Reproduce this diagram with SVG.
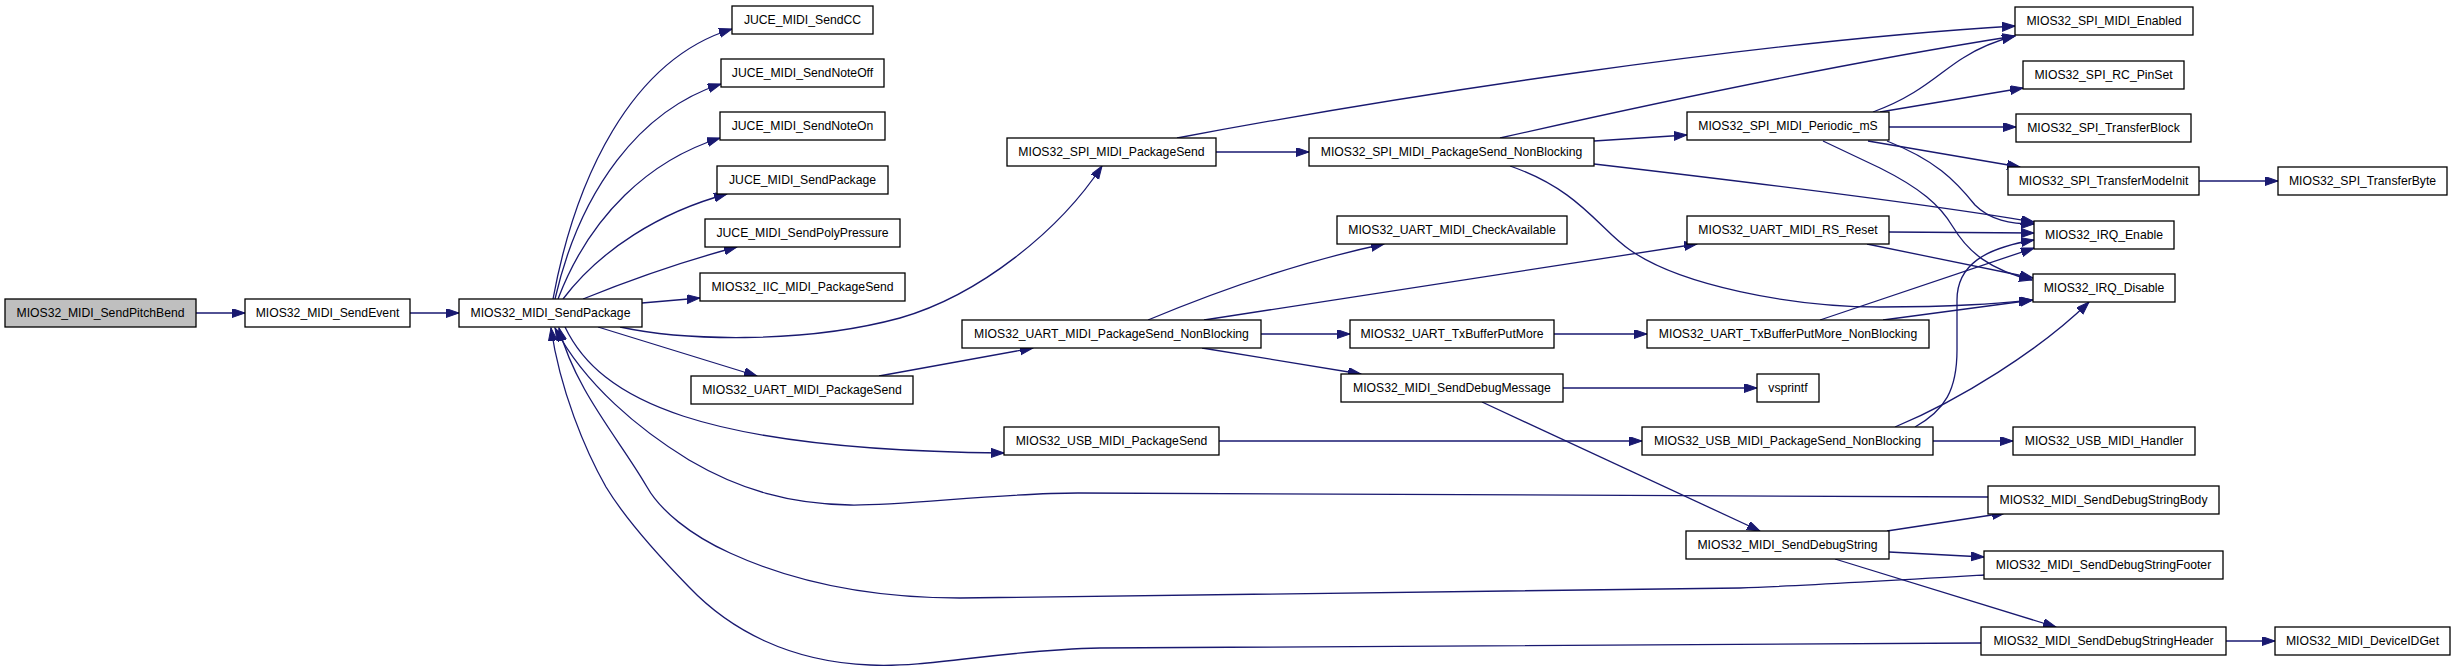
<svg xmlns="http://www.w3.org/2000/svg" width="2456" height="671" viewBox="0 0 2456 671">
<style>
.node rect{fill:#ffffff;stroke:#000000;stroke-width:1.3}
.root rect{fill:#bfbfbf}
text{font-family:"Liberation Sans",Arial,Helvetica,sans-serif;font-size:12.2px;text-anchor:middle;fill:#000000}
.edge path{fill:none;stroke:#191970;stroke-width:1.3;marker-end:url(#arr)}
</style>
<defs>
<marker id="arr" markerUnits="userSpaceOnUse" markerWidth="14" markerHeight="10" refX="13" refY="4.5" orient="auto">
<path d="M0,0 L13,4.5 L0,9 z" fill="#191970" stroke="#191970" stroke-width="1"/>
</marker>
</defs>
<rect x="0" y="0" width="2456" height="671" fill="#ffffff"/>
<g id="edges" class="edge">
<path d="M196,313 L245,313"/>
<path d="M410,313 L459,313"/>
<path d="M553,299 C575,180 630,60 732,29"/>
<path d="M555,299 C580,190 640,110 721,84"/>
<path d="M558,299 C590,215 650,160 720,138"/>
<path d="M563,299 C600,250 660,212 727,194"/>
<path d="M583,299 C630,280 680,262 737,247"/>
<path d="M642,303 L700,298"/>
<path d="M620,327 C680,340 800,345 900,318 C980,295 1060,230 1102,166"/>
<path d="M598,327 L757,376"/>
<path d="M565,327 C600,400 700,450 1004,453"/>
<path d="M1177,138 C1400,96 1750,42 2015,26"/>
<path d="M1216,152 L1309,152"/>
<path d="M1594,141 L1687,135"/>
<path d="M1500,138 C1650,104 1850,62 2015,36"/>
<path d="M1594,164 C1800,188 1950,208 2034,222"/>
<path d="M1510,166 C1580,190 1600,230 1630,250 C1680,285 1790,307 1880,307 C1960,307 2000,303 2032,300"/>
<path d="M1873,112 C1920,95 1940,72 1963,58 C1980,47 1995,41 2015,36"/>
<path d="M1880,112 L2023,88"/>
<path d="M1889,127 L2016,127"/>
<path d="M1868,141 L2020,167"/>
<path d="M1887,141 C1935,160 1955,180 1975,205 C1990,220 2010,224 2034,224"/>
<path d="M1823,141 L1880,168 C1920,188 1940,205 1953,227 C1968,252 1990,270 2032,280"/>
<path d="M1889,232 L2034,233"/>
<path d="M1867,244 L2033,278"/>
<path d="M1148,320 C1220,290 1300,262 1384,244"/>
<path d="M1204,320 L1697,244"/>
<path d="M1261,334 L1350,334"/>
<path d="M1202,348 L1361,374"/>
<path d="M879,376 L1033,348"/>
<path d="M1554,334 L1647,334"/>
<path d="M1820,320 L2034,248"/>
<path d="M1883,320 L2033,300"/>
<path d="M1563,388 L1757,388"/>
<path d="M1482,402 L1760,531"/>
<path d="M1219,441 L1642,441"/>
<path d="M1915,427 C1945,410 1957,390 1957,350 L1957,300 C1957,265 1985,248 2034,240"/>
<path d="M1895,427 C1960,400 2040,350 2089,302"/>
<path d="M1933,441 L2013,441"/>
<path d="M1887,531 L2005,513"/>
<path d="M1889,552 L1984,557"/>
<path d="M1835,559 L2056,627"/>
<path d="M2226,641 L2275,641"/>
<path d="M2199,181 L2278,181"/>
<path d="M1988,497 L1078,493 C1000,493 900,506 850,505 C790,504 740,490 689,460 C640,430 585,385 555,328"/>
<path d="M1984,575 C1900,580 1800,586 1740,588 L960,598 C880,598 800,585 730,553 C690,535 660,510 647,487 C620,440 575,390 559,328"/>
<path d="M1981,643 L1100,648 C1000,650 930,668 870,665 C790,662 730,630 689,587 C650,547 620,510 606,487 C585,450 560,390 551,328"/>
</g>
<g id="node-SendPitchBend" class="node root"><rect x="5" y="299" width="191" height="28"/><text x="100.5" y="316.5">MIOS32_MIDI_SendPitchBend</text></g>
<g id="node-SendEvent" class="node"><rect x="245" y="299" width="165" height="28"/><text x="327.5" y="316.5">MIOS32_MIDI_SendEvent</text></g>
<g id="node-SendPackage" class="node"><rect x="459" y="299" width="183" height="28"/><text x="550.5" y="316.5">MIOS32_MIDI_SendPackage</text></g>
<g id="node-JUCE_SendCC" class="node"><rect x="732" y="6" width="141" height="28"/><text x="802.5" y="23.5">JUCE_MIDI_SendCC</text></g>
<g id="node-JUCE_SendNoteOff" class="node"><rect x="721" y="59" width="163" height="28"/><text x="802.5" y="76.5">JUCE_MIDI_SendNoteOff</text></g>
<g id="node-JUCE_SendNoteOn" class="node"><rect x="720" y="112" width="165" height="28"/><text x="802.5" y="129.5">JUCE_MIDI_SendNoteOn</text></g>
<g id="node-JUCE_SendPackage" class="node"><rect x="717" y="166" width="171" height="28"/><text x="802.5" y="183.5">JUCE_MIDI_SendPackage</text></g>
<g id="node-JUCE_SendPolyPressure" class="node"><rect x="705" y="219" width="195" height="28"/><text x="802.5" y="236.5">JUCE_MIDI_SendPolyPressure</text></g>
<g id="node-IIC_PackageSend" class="node"><rect x="700" y="273" width="205" height="28"/><text x="802.5" y="290.5">MIOS32_IIC_MIDI_PackageSend</text></g>
<g id="node-UART_PackageSend" class="node"><rect x="691" y="376" width="222" height="28"/><text x="802" y="393.5">MIOS32_UART_MIDI_PackageSend</text></g>
<g id="node-SPI_PackageSend" class="node"><rect x="1007" y="138" width="209" height="28"/><text x="1111.5" y="155.5">MIOS32_SPI_MIDI_PackageSend</text></g>
<g id="node-UART_PackageSend_NB" class="node"><rect x="962" y="320" width="299" height="28"/><text x="1111.5" y="337.5">MIOS32_UART_MIDI_PackageSend_NonBlocking</text></g>
<g id="node-USB_PackageSend" class="node"><rect x="1004" y="427" width="215" height="28"/><text x="1111.5" y="444.5">MIOS32_USB_MIDI_PackageSend</text></g>
<g id="node-SPI_PackageSend_NB" class="node"><rect x="1309" y="138" width="285" height="28"/><text x="1451.5" y="155.5">MIOS32_SPI_MIDI_PackageSend_NonBlocking</text></g>
<g id="node-UART_CheckAvailable" class="node"><rect x="1337" y="216" width="230" height="28"/><text x="1452" y="233.5">MIOS32_UART_MIDI_CheckAvailable</text></g>
<g id="node-UART_TxBufferPutMore" class="node"><rect x="1350" y="320" width="204" height="28"/><text x="1452" y="337.5">MIOS32_UART_TxBufferPutMore</text></g>
<g id="node-SendDebugMessage" class="node"><rect x="1341" y="374" width="222" height="28"/><text x="1452" y="391.5">MIOS32_MIDI_SendDebugMessage</text></g>
<g id="node-SPI_Periodic_mS" class="node"><rect x="1687" y="112" width="202" height="28"/><text x="1788" y="129.5">MIOS32_SPI_MIDI_Periodic_mS</text></g>
<g id="node-UART_RS_Reset" class="node"><rect x="1687" y="216" width="202" height="28"/><text x="1788" y="233.5">MIOS32_UART_MIDI_RS_Reset</text></g>
<g id="node-UART_TxBufferPutMore_NB" class="node"><rect x="1647" y="320" width="282" height="28"/><text x="1788" y="337.5">MIOS32_UART_TxBufferPutMore_NonBlocking</text></g>
<g id="node-vsprintf" class="node"><rect x="1757" y="374" width="62" height="28"/><text x="1788" y="391.5">vsprintf</text></g>
<g id="node-USB_PackageSend_NB" class="node"><rect x="1642" y="427" width="291" height="28"/><text x="1787.5" y="444.5">MIOS32_USB_MIDI_PackageSend_NonBlocking</text></g>
<g id="node-SendDebugString" class="node"><rect x="1686" y="531" width="203" height="28"/><text x="1787.5" y="548.5">MIOS32_MIDI_SendDebugString</text></g>
<g id="node-SPI_Enabled" class="node"><rect x="2015" y="7" width="178" height="28"/><text x="2104" y="24.5">MIOS32_SPI_MIDI_Enabled</text></g>
<g id="node-SPI_RC_PinSet" class="node"><rect x="2023" y="61" width="161" height="28"/><text x="2103.5" y="78.5">MIOS32_SPI_RC_PinSet</text></g>
<g id="node-SPI_TransferBlock" class="node"><rect x="2016" y="114" width="175" height="28"/><text x="2103.5" y="131.5">MIOS32_SPI_TransferBlock</text></g>
<g id="node-SPI_TransferModeInit" class="node"><rect x="2008" y="167" width="191" height="28"/><text x="2103.5" y="184.5">MIOS32_SPI_TransferModeInit</text></g>
<g id="node-SPI_TransferByte" class="node"><rect x="2278" y="167" width="169" height="28"/><text x="2362.5" y="184.5">MIOS32_SPI_TransferByte</text></g>
<g id="node-IRQ_Enable" class="node"><rect x="2034" y="221" width="140" height="28"/><text x="2104" y="238.5">MIOS32_IRQ_Enable</text></g>
<g id="node-IRQ_Disable" class="node"><rect x="2033" y="274" width="142" height="28"/><text x="2104" y="291.5">MIOS32_IRQ_Disable</text></g>
<g id="node-USB_Handler" class="node"><rect x="2013" y="427" width="182" height="28"/><text x="2104" y="444.5">MIOS32_USB_MIDI_Handler</text></g>
<g id="node-SendDebugStringBody" class="node"><rect x="1988" y="486" width="231" height="28"/><text x="2103.5" y="503.5">MIOS32_MIDI_SendDebugStringBody</text></g>
<g id="node-SendDebugStringFooter" class="node"><rect x="1984" y="551" width="239" height="28"/><text x="2103.5" y="568.5">MIOS32_MIDI_SendDebugStringFooter</text></g>
<g id="node-SendDebugStringHeader" class="node"><rect x="1981" y="627" width="245" height="28"/><text x="2103.5" y="644.5">MIOS32_MIDI_SendDebugStringHeader</text></g>
<g id="node-DeviceIDGet" class="node"><rect x="2275" y="627" width="175" height="28"/><text x="2362.5" y="644.5">MIOS32_MIDI_DeviceIDGet</text></g>
</svg>
